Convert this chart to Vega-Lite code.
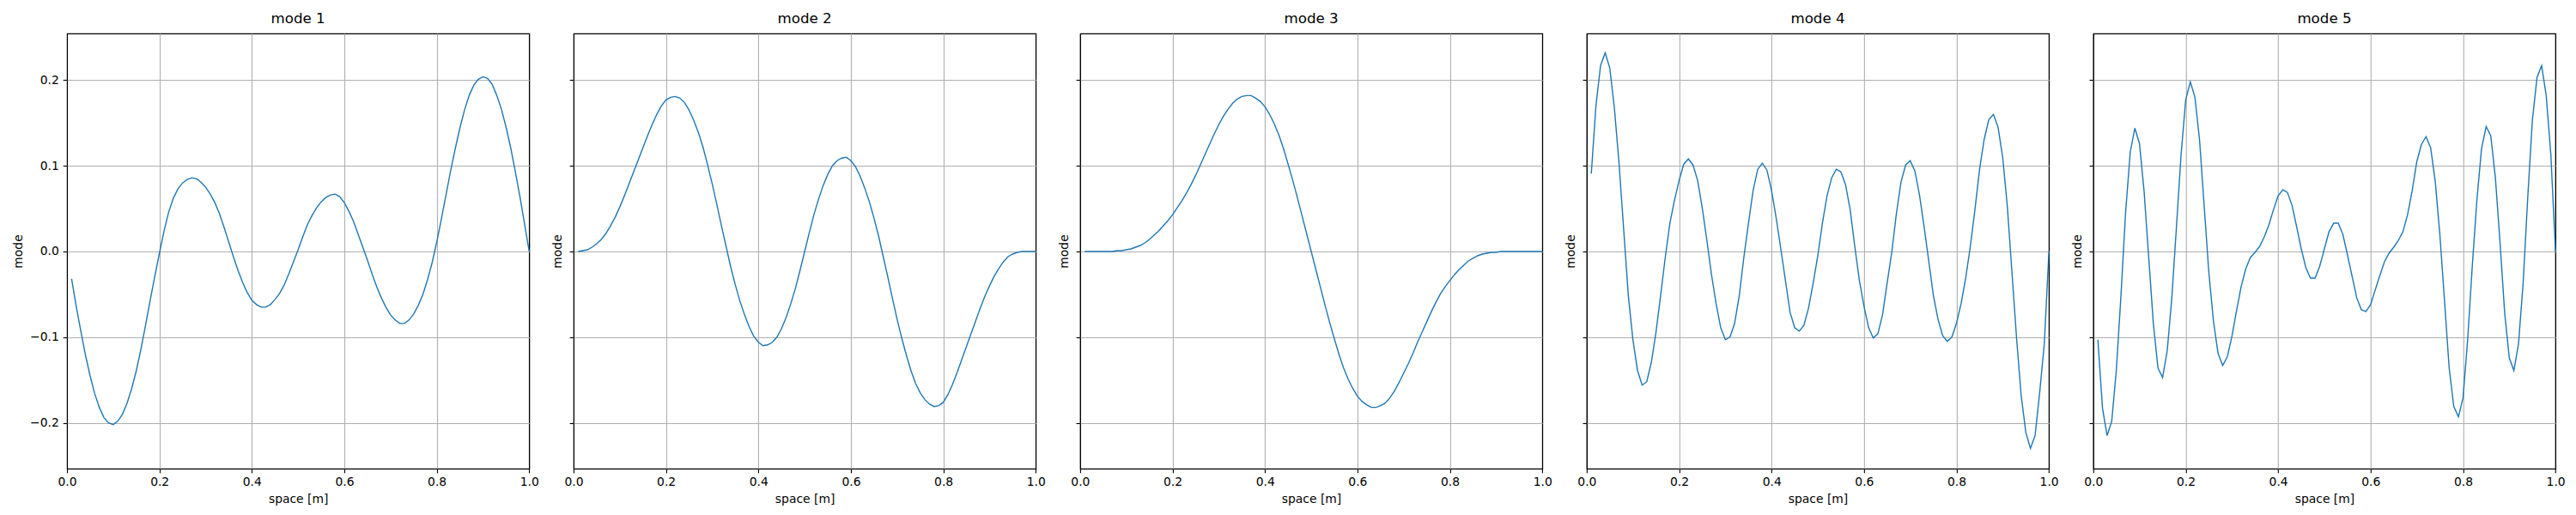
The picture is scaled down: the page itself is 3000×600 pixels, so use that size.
{
"$schema": "https://vega.github.io/schema/vega-lite/v6.json",
"background": "white",
"padding": {"left": 14, "top": 13, "right": 5, "bottom": 5},
"spacing": 50.95,
"bounds": "flush",
"datasets": {
"m1": [
{"x":0.01,"y":-0.032},{"x":0.02,"y":-0.064},{"x":0.03,"y":-0.093},{"x":0.04,"y":-0.121},{"x":0.05,"y":-0.145},{"x":0.06,"y":-0.166},{"x":0.07,"y":-0.182},{"x":0.08,"y":-0.194},{"x":0.09,"y":-0.2},{"x":0.1,"y":-0.202},
{"x":0.11,"y":-0.198},{"x":0.12,"y":-0.19},{"x":0.13,"y":-0.177},{"x":0.14,"y":-0.16},{"x":0.15,"y":-0.139},{"x":0.16,"y":-0.114},{"x":0.17,"y":-0.086},{"x":0.18,"y":-0.057},{"x":0.19,"y":-0.029},{"x":0.2,"y":-0.002},
{"x":0.21,"y":0.024},{"x":0.22,"y":0.046},{"x":0.23,"y":0.062},{"x":0.24,"y":0.073},{"x":0.25,"y":0.08},{"x":0.26,"y":0.084},{"x":0.27,"y":0.086},{"x":0.28,"y":0.085},{"x":0.29,"y":0.081},{"x":0.3,"y":0.075},
{"x":0.31,"y":0.067},{"x":0.32,"y":0.057},{"x":0.33,"y":0.044},{"x":0.34,"y":0.028},{"x":0.35,"y":0.011},{"x":0.36,"y":-0.006},{"x":0.37,"y":-0.022},{"x":0.38,"y":-0.036},{"x":0.39,"y":-0.048},{"x":0.4,"y":-0.057},
{"x":0.41,"y":-0.062},{"x":0.42,"y":-0.065},{"x":0.43,"y":-0.065},{"x":0.44,"y":-0.062},{"x":0.45,"y":-0.056},{"x":0.46,"y":-0.049},{"x":0.47,"y":-0.039},{"x":0.48,"y":-0.026},{"x":0.49,"y":-0.012},{"x":0.5,"y":0.002},
{"x":0.51,"y":0.017},{"x":0.52,"y":0.031},{"x":0.53,"y":0.042},{"x":0.54,"y":0.051},{"x":0.55,"y":0.058},{"x":0.56,"y":0.063},{"x":0.57,"y":0.066},{"x":0.58,"y":0.067},{"x":0.59,"y":0.064},{"x":0.6,"y":0.057},
{"x":0.61,"y":0.047},{"x":0.62,"y":0.035},{"x":0.63,"y":0.02},{"x":0.64,"y":0.005},{"x":0.65,"y":-0.01},{"x":0.66,"y":-0.026},{"x":0.67,"y":-0.041},{"x":0.68,"y":-0.054},{"x":0.69,"y":-0.065},{"x":0.7,"y":-0.074},
{"x":0.71,"y":-0.08},{"x":0.72,"y":-0.084},{"x":0.73,"y":-0.084},{"x":0.74,"y":-0.08},{"x":0.75,"y":-0.073},{"x":0.76,"y":-0.063},{"x":0.77,"y":-0.05},{"x":0.78,"y":-0.033},{"x":0.79,"y":-0.013},{"x":0.8,"y":0.011},
{"x":0.81,"y":0.038},{"x":0.82,"y":0.066},{"x":0.83,"y":0.094},{"x":0.84,"y":0.12},{"x":0.85,"y":0.144},{"x":0.86,"y":0.165},{"x":0.87,"y":0.182},{"x":0.88,"y":0.194},{"x":0.89,"y":0.201},{"x":0.9,"y":0.204},
{"x":0.91,"y":0.202},{"x":0.92,"y":0.195},{"x":0.93,"y":0.182},{"x":0.94,"y":0.166},{"x":0.95,"y":0.145},{"x":0.96,"y":0.121},{"x":0.97,"y":0.093},{"x":0.98,"y":0.064},{"x":0.99,"y":0.032},{"x":1.0,"y":0.0}
],
"m2": [
{"x":0.01,"y":0.0},{"x":0.02,"y":0.001},{"x":0.03,"y":0.002},{"x":0.04,"y":0.005},{"x":0.05,"y":0.009},{"x":0.06,"y":0.014},{"x":0.07,"y":0.021},{"x":0.08,"y":0.03},{"x":0.09,"y":0.04},{"x":0.1,"y":0.052},
{"x":0.11,"y":0.065},{"x":0.12,"y":0.079},{"x":0.13,"y":0.093},{"x":0.14,"y":0.107},{"x":0.15,"y":0.121},{"x":0.16,"y":0.135},{"x":0.17,"y":0.148},{"x":0.18,"y":0.16},{"x":0.19,"y":0.17},{"x":0.2,"y":0.177},
{"x":0.21,"y":0.18},{"x":0.22,"y":0.181},{"x":0.23,"y":0.179},{"x":0.24,"y":0.174},{"x":0.25,"y":0.165},{"x":0.26,"y":0.153},{"x":0.27,"y":0.139},{"x":0.28,"y":0.122},{"x":0.29,"y":0.101},{"x":0.3,"y":0.079},
{"x":0.31,"y":0.055},{"x":0.32,"y":0.03},{"x":0.33,"y":0.006},{"x":0.34,"y":-0.018},{"x":0.35,"y":-0.039},{"x":0.36,"y":-0.058},{"x":0.37,"y":-0.074},{"x":0.38,"y":-0.088},{"x":0.39,"y":-0.099},{"x":0.4,"y":-0.106},
{"x":0.41,"y":-0.11},{"x":0.42,"y":-0.109},{"x":0.43,"y":-0.106},{"x":0.44,"y":-0.1},{"x":0.45,"y":-0.09},{"x":0.46,"y":-0.077},{"x":0.47,"y":-0.061},{"x":0.48,"y":-0.043},{"x":0.49,"y":-0.022},{"x":0.5,"y":0.0},
{"x":0.51,"y":0.022},{"x":0.52,"y":0.043},{"x":0.53,"y":0.061},{"x":0.54,"y":0.077},{"x":0.55,"y":0.09},{"x":0.56,"y":0.1},{"x":0.57,"y":0.106},{"x":0.58,"y":0.109},{"x":0.59,"y":0.11},{"x":0.6,"y":0.106},
{"x":0.61,"y":0.099},{"x":0.62,"y":0.088},{"x":0.63,"y":0.074},{"x":0.64,"y":0.058},{"x":0.65,"y":0.039},{"x":0.66,"y":0.018},{"x":0.67,"y":-0.006},{"x":0.68,"y":-0.03},{"x":0.69,"y":-0.055},{"x":0.7,"y":-0.079},
{"x":0.71,"y":-0.101},{"x":0.72,"y":-0.121},{"x":0.73,"y":-0.139},{"x":0.74,"y":-0.154},{"x":0.75,"y":-0.165},{"x":0.76,"y":-0.173},{"x":0.77,"y":-0.178},{"x":0.78,"y":-0.181},{"x":0.79,"y":-0.18},{"x":0.8,"y":-0.176},
{"x":0.81,"y":-0.167},{"x":0.82,"y":-0.155},{"x":0.83,"y":-0.141},{"x":0.84,"y":-0.126},{"x":0.85,"y":-0.111},{"x":0.86,"y":-0.096},{"x":0.87,"y":-0.081},{"x":0.88,"y":-0.066},{"x":0.89,"y":-0.052},{"x":0.9,"y":-0.04},
{"x":0.91,"y":-0.029},{"x":0.92,"y":-0.02},{"x":0.93,"y":-0.012},{"x":0.94,"y":-0.006},{"x":0.95,"y":-0.003},{"x":0.96,"y":-0.001},{"x":0.97,"y":0.0},{"x":0.98,"y":0.0},{"x":0.99,"y":0.0},{"x":1.0,"y":0.0}
],
"m3": [
{"x":0.01,"y":0.0},{"x":0.02,"y":0.0},{"x":0.03,"y":0.0},{"x":0.04,"y":0.0},{"x":0.05,"y":0.0},{"x":0.06,"y":0.0},{"x":0.07,"y":0.0},{"x":0.08,"y":0.001},{"x":0.09,"y":0.001},{"x":0.1,"y":0.002},
{"x":0.11,"y":0.003},{"x":0.12,"y":0.005},{"x":0.13,"y":0.007},{"x":0.14,"y":0.01},{"x":0.15,"y":0.014},{"x":0.16,"y":0.019},{"x":0.17,"y":0.024},{"x":0.18,"y":0.03},{"x":0.19,"y":0.036},{"x":0.2,"y":0.043},
{"x":0.21,"y":0.051},{"x":0.22,"y":0.059},{"x":0.23,"y":0.068},{"x":0.24,"y":0.078},{"x":0.25,"y":0.089},{"x":0.26,"y":0.101},{"x":0.27,"y":0.113},{"x":0.28,"y":0.125},{"x":0.29,"y":0.137},{"x":0.3,"y":0.148},
{"x":0.31,"y":0.158},{"x":0.32,"y":0.166},{"x":0.33,"y":0.173},{"x":0.34,"y":0.178},{"x":0.35,"y":0.181},{"x":0.36,"y":0.182},{"x":0.37,"y":0.182},{"x":0.38,"y":0.179},{"x":0.39,"y":0.175},{"x":0.4,"y":0.169},
{"x":0.41,"y":0.16},{"x":0.42,"y":0.149},{"x":0.43,"y":0.136},{"x":0.44,"y":0.12},{"x":0.45,"y":0.102},{"x":0.46,"y":0.083},{"x":0.47,"y":0.063},{"x":0.48,"y":0.042},{"x":0.49,"y":0.021},{"x":0.5,"y":0.0},
{"x":0.51,"y":-0.021},{"x":0.52,"y":-0.042},{"x":0.53,"y":-0.063},{"x":0.54,"y":-0.083},{"x":0.55,"y":-0.102},{"x":0.56,"y":-0.12},{"x":0.57,"y":-0.136},{"x":0.58,"y":-0.149},{"x":0.59,"y":-0.16},{"x":0.6,"y":-0.169},
{"x":0.61,"y":-0.175},{"x":0.62,"y":-0.179},{"x":0.63,"y":-0.182},{"x":0.64,"y":-0.182},{"x":0.65,"y":-0.18},{"x":0.66,"y":-0.177},{"x":0.67,"y":-0.171},{"x":0.68,"y":-0.163},{"x":0.69,"y":-0.153},{"x":0.7,"y":-0.142},
{"x":0.71,"y":-0.131},{"x":0.72,"y":-0.119},{"x":0.73,"y":-0.106},{"x":0.74,"y":-0.094},{"x":0.75,"y":-0.082},{"x":0.76,"y":-0.07},{"x":0.77,"y":-0.059},{"x":0.78,"y":-0.049},{"x":0.79,"y":-0.041},{"x":0.8,"y":-0.034},
{"x":0.81,"y":-0.027},{"x":0.82,"y":-0.021},{"x":0.83,"y":-0.016},{"x":0.84,"y":-0.011},{"x":0.85,"y":-0.008},{"x":0.86,"y":-0.005},{"x":0.87,"y":-0.003},{"x":0.88,"y":-0.002},{"x":0.89,"y":-0.001},{"x":0.9,"y":-0.001},
{"x":0.91,"y":0.0},{"x":0.92,"y":0.0},{"x":0.93,"y":0.0},{"x":0.94,"y":0.0},{"x":0.95,"y":0.0},{"x":0.96,"y":0.0},{"x":0.97,"y":0.0},{"x":0.98,"y":0.0},{"x":0.99,"y":0.0},{"x":1.0,"y":0.0}
],
"m4": [
{"x":0.01,"y":0.091},{"x":0.02,"y":0.17},{"x":0.03,"y":0.217},{"x":0.04,"y":0.232},{"x":0.05,"y":0.214},{"x":0.06,"y":0.167},{"x":0.07,"y":0.103},{"x":0.08,"y":0.026},{"x":0.09,"y":-0.051},{"x":0.1,"y":-0.103},
{"x":0.11,"y":-0.139},{"x":0.12,"y":-0.156},{"x":0.13,"y":-0.152},{"x":0.14,"y":-0.129},{"x":0.15,"y":-0.094},{"x":0.16,"y":-0.051},{"x":0.17,"y":-0.007},{"x":0.18,"y":0.033},{"x":0.19,"y":0.06},{"x":0.2,"y":0.083},
{"x":0.21,"y":0.102},{"x":0.22,"y":0.108},{"x":0.23,"y":0.101},{"x":0.24,"y":0.083},{"x":0.25,"y":0.051},{"x":0.26,"y":0.013},{"x":0.27,"y":-0.027},{"x":0.28,"y":-0.061},{"x":0.29,"y":-0.089},{"x":0.3,"y":-0.103},
{"x":0.31,"y":-0.1},{"x":0.32,"y":-0.084},{"x":0.33,"y":-0.052},{"x":0.34,"y":-0.007},{"x":0.35,"y":0.033},{"x":0.36,"y":0.071},{"x":0.37,"y":0.096},{"x":0.38,"y":0.103},{"x":0.39,"y":0.095},{"x":0.4,"y":0.071},
{"x":0.41,"y":0.039},{"x":0.42,"y":0.003},{"x":0.43,"y":-0.034},{"x":0.44,"y":-0.071},{"x":0.45,"y":-0.089},{"x":0.46,"y":-0.093},{"x":0.47,"y":-0.086},{"x":0.48,"y":-0.066},{"x":0.49,"y":-0.037},{"x":0.5,"y":-0.005},
{"x":0.51,"y":0.033},{"x":0.52,"y":0.065},{"x":0.53,"y":0.086},{"x":0.54,"y":0.096},{"x":0.55,"y":0.093},{"x":0.56,"y":0.078},{"x":0.57,"y":0.049},{"x":0.58,"y":0.006},{"x":0.59,"y":-0.034},{"x":0.6,"y":-0.064},
{"x":0.61,"y":-0.089},{"x":0.62,"y":-0.101},{"x":0.63,"y":-0.096},{"x":0.64,"y":-0.074},{"x":0.65,"y":-0.037},{"x":0.66,"y":-0.001},{"x":0.67,"y":0.044},{"x":0.68,"y":0.081},{"x":0.69,"y":0.101},{"x":0.7,"y":0.106},
{"x":0.71,"y":0.094},{"x":0.72,"y":0.066},{"x":0.73,"y":0.029},{"x":0.74,"y":-0.011},{"x":0.75,"y":-0.051},{"x":0.76,"y":-0.079},{"x":0.77,"y":-0.098},{"x":0.78,"y":-0.105},{"x":0.79,"y":-0.1},{"x":0.8,"y":-0.084},
{"x":0.81,"y":-0.061},{"x":0.82,"y":-0.031},{"x":0.83,"y":0.006},{"x":0.84,"y":0.049},{"x":0.85,"y":0.096},{"x":0.86,"y":0.131},{"x":0.87,"y":0.154},{"x":0.88,"y":0.16},{"x":0.89,"y":0.145},{"x":0.9,"y":0.11},
{"x":0.91,"y":0.053},{"x":0.92,"y":-0.024},{"x":0.93,"y":-0.101},{"x":0.94,"y":-0.168},{"x":0.95,"y":-0.211},{"x":0.96,"y":-0.23},{"x":0.97,"y":-0.215},{"x":0.98,"y":-0.165},{"x":0.99,"y":-0.108},{"x":1.0,"y":0.0}
],
"m5": [
{"x":0.01,"y":-0.103},{"x":0.02,"y":-0.183},{"x":0.03,"y":-0.215},{"x":0.04,"y":-0.198},{"x":0.05,"y":-0.138},{"x":0.06,"y":-0.051},{"x":0.07,"y":0.046},{"x":0.08,"y":0.116},{"x":0.09,"y":0.144},{"x":0.1,"y":0.126},
{"x":0.11,"y":0.07},{"x":0.12,"y":-0.007},{"x":0.13,"y":-0.084},{"x":0.14,"y":-0.136},{"x":0.15,"y":-0.147},{"x":0.16,"y":-0.116},{"x":0.17,"y":-0.054},{"x":0.18,"y":0.029},{"x":0.19,"y":0.113},{"x":0.2,"y":0.177},
{"x":0.21,"y":0.198},{"x":0.22,"y":0.18},{"x":0.23,"y":0.13},{"x":0.24,"y":0.053},{"x":0.25,"y":-0.024},{"x":0.26,"y":-0.081},{"x":0.27,"y":-0.119},{"x":0.28,"y":-0.133},{"x":0.29,"y":-0.123},{"x":0.3,"y":-0.099},
{"x":0.31,"y":-0.069},{"x":0.32,"y":-0.041},{"x":0.33,"y":-0.02},{"x":0.34,"y":-0.007},{"x":0.35,"y":-0.001},{"x":0.36,"y":0.006},{"x":0.37,"y":0.017},{"x":0.38,"y":0.031},{"x":0.39,"y":0.049},{"x":0.4,"y":0.065},
{"x":0.41,"y":0.072},{"x":0.42,"y":0.069},{"x":0.43,"y":0.054},{"x":0.44,"y":0.029},{"x":0.45,"y":0.003},{"x":0.46,"y":-0.019},{"x":0.47,"y":-0.031},{"x":0.48,"y":-0.031},{"x":0.49,"y":-0.017},{"x":0.5,"y":0.003},
{"x":0.51,"y":0.023},{"x":0.52,"y":0.033},{"x":0.53,"y":0.033},{"x":0.54,"y":0.02},{"x":0.55,"y":-0.004},{"x":0.56,"y":-0.029},{"x":0.57,"y":-0.054},{"x":0.58,"y":-0.068},{"x":0.59,"y":-0.07},{"x":0.6,"y":-0.062},
{"x":0.61,"y":-0.045},{"x":0.62,"y":-0.028},{"x":0.63,"y":-0.012},{"x":0.64,"y":-0.002},{"x":0.65,"y":0.005},{"x":0.66,"y":0.013},{"x":0.67,"y":0.023},{"x":0.68,"y":0.043},{"x":0.69,"y":0.071},{"x":0.7,"y":0.105},
{"x":0.71,"y":0.125},{"x":0.72,"y":0.134},{"x":0.73,"y":0.121},{"x":0.74,"y":0.081},{"x":0.75,"y":0.019},{"x":0.76,"y":-0.058},{"x":0.77,"y":-0.136},{"x":0.78,"y":-0.181},{"x":0.79,"y":-0.193},{"x":0.8,"y":-0.171},
{"x":0.81,"y":-0.103},{"x":0.82,"y":-0.017},{"x":0.83,"y":0.06},{"x":0.84,"y":0.12},{"x":0.85,"y":0.146},{"x":0.86,"y":0.135},{"x":0.87,"y":0.086},{"x":0.88,"y":0.011},{"x":0.89,"y":-0.071},{"x":0.9,"y":-0.124},
{"x":0.91,"y":-0.139},{"x":0.92,"y":-0.108},{"x":0.93,"y":-0.037},{"x":0.94,"y":0.063},{"x":0.95,"y":0.153},{"x":0.96,"y":0.203},{"x":0.97,"y":0.217},{"x":0.98,"y":0.182},{"x":0.99,"y":0.113},{"x":1.0,"y":0.0}
]
},
"config": {
"font": "DejaVu Sans",
"view": {"stroke": "black", "strokeWidth": 1.11},
"axis": {"labelFont": "DejaVu Sans", "labelFontSize": 13.89, "labelColor": "black", "titleFont": "DejaVu Sans", "titleFontSize": 13.89, "titleFontWeight": "normal", "titleColor": "black", "tickColor": "black", "tickSize": 4.86, "tickWidth": 1.11, "domain": false, "gridColor": "#b0b0b0", "gridWidth": 1.11, "gridOpacity": 1, "labelFlush": false, "labelOverlap": false, "labelBound": false},
"axisX": {"labelPadding": 4, "titlePadding": 6},
"axisY": {"labelPadding": 4.86, "titlePadding": 5.6},
"title": {"font": "DejaVu Sans", "fontSize": 16.67, "fontWeight": "normal", "color": "black", "offset": 8.33, "baseline": "alphabetic", "anchor": "middle"}
},
"hconcat": [
{"title": "mode 1", "width": 538.3, "height": 507, "data": {"name": "m1"},
 "mark": {"type": "line", "color": "#1f77b4", "strokeWidth": 1.4},
 "encoding": {
  "x": {"field": "x", "type": "quantitative", "title": "space [m]", "scale": {"domain": [0, 1], "nice": false, "zero": false}, "axis": {"values": [0, 0.2, 0.4, 0.6, 0.8, 1], "format": ".1f", "gridColor": {"condition": {"test": "datum.value <= 0.0001 || datum.value >= 0.9999", "value": "black"}, "value": "#b0b0b0"}}},
  "y": {"field": "y", "type": "quantitative", "title": "mode", "scale": {"domain": [-0.2535, 0.2545], "nice": false, "zero": false}, "axis": {"values": [-0.2, -0.1, 0, 0.1, 0.2], "format": ".1f"}}
 }},
{"title": "mode 2", "width": 538.3, "height": 507, "data": {"name": "m2"},
 "mark": {"type": "line", "color": "#1f77b4", "strokeWidth": 1.4},
 "encoding": {
  "x": {"field": "x", "type": "quantitative", "title": "space [m]", "scale": {"domain": [0, 1], "nice": false, "zero": false}, "axis": {"values": [0, 0.2, 0.4, 0.6, 0.8, 1], "format": ".1f", "gridColor": {"condition": {"test": "datum.value <= 0.0001 || datum.value >= 0.9999", "value": "black"}, "value": "#b0b0b0"}}},
  "y": {"field": "y", "type": "quantitative", "title": "mode", "scale": {"domain": [-0.2535, 0.2545], "nice": false, "zero": false}, "axis": {"values": [-0.2, -0.1, 0, 0.1, 0.2], "labels": false}}
 }},
{"title": "mode 3", "width": 538.3, "height": 507, "data": {"name": "m3"},
 "mark": {"type": "line", "color": "#1f77b4", "strokeWidth": 1.4},
 "encoding": {
  "x": {"field": "x", "type": "quantitative", "title": "space [m]", "scale": {"domain": [0, 1], "nice": false, "zero": false}, "axis": {"values": [0, 0.2, 0.4, 0.6, 0.8, 1], "format": ".1f", "gridColor": {"condition": {"test": "datum.value <= 0.0001 || datum.value >= 0.9999", "value": "black"}, "value": "#b0b0b0"}}},
  "y": {"field": "y", "type": "quantitative", "title": "mode", "scale": {"domain": [-0.2535, 0.2545], "nice": false, "zero": false}, "axis": {"values": [-0.2, -0.1, 0, 0.1, 0.2], "labels": false}}
 }},
{"title": "mode 4", "width": 538.3, "height": 507, "data": {"name": "m4"},
 "mark": {"type": "line", "color": "#1f77b4", "strokeWidth": 1.4},
 "encoding": {
  "x": {"field": "x", "type": "quantitative", "title": "space [m]", "scale": {"domain": [0, 1], "nice": false, "zero": false}, "axis": {"values": [0, 0.2, 0.4, 0.6, 0.8, 1], "format": ".1f", "gridColor": {"condition": {"test": "datum.value <= 0.0001 || datum.value >= 0.9999", "value": "black"}, "value": "#b0b0b0"}}},
  "y": {"field": "y", "type": "quantitative", "title": "mode", "scale": {"domain": [-0.2535, 0.2545], "nice": false, "zero": false}, "axis": {"values": [-0.2, -0.1, 0, 0.1, 0.2], "labels": false}}
 }},
{"title": "mode 5", "width": 538.3, "height": 507, "data": {"name": "m5"},
 "mark": {"type": "line", "color": "#1f77b4", "strokeWidth": 1.4},
 "encoding": {
  "x": {"field": "x", "type": "quantitative", "title": "space [m]", "scale": {"domain": [0, 1], "nice": false, "zero": false}, "axis": {"values": [0, 0.2, 0.4, 0.6, 0.8, 1], "format": ".1f", "gridColor": {"condition": {"test": "datum.value <= 0.0001 || datum.value >= 0.9999", "value": "black"}, "value": "#b0b0b0"}}},
  "y": {"field": "y", "type": "quantitative", "title": "mode", "scale": {"domain": [-0.2535, 0.2545], "nice": false, "zero": false}, "axis": {"values": [-0.2, -0.1, 0, 0.1, 0.2], "labels": false}}
 }}
]
}
